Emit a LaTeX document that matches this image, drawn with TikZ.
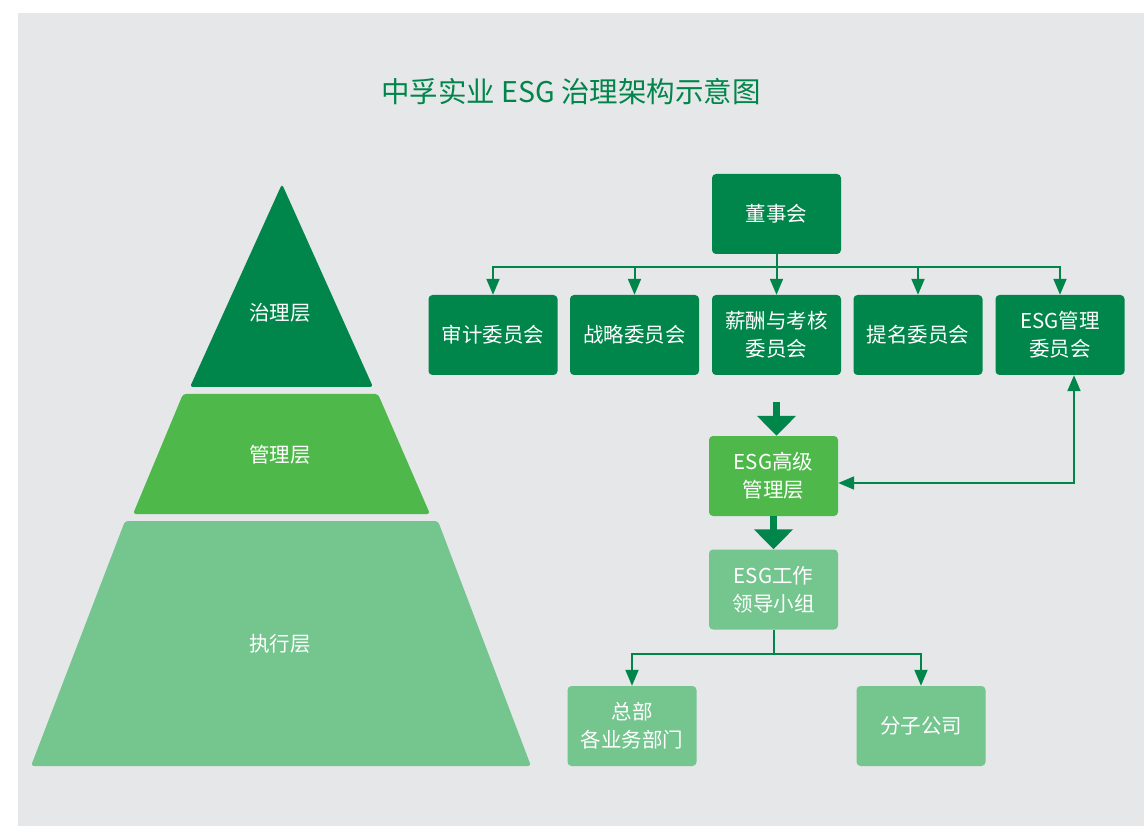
\documentclass[tikz,border=0pt]{standalone}
\usepackage{fontspec}
\setmainfont{Noto Sans CJK SC}
\usepackage{tikz}
\usetikzlibrary{arrows.meta,calc}
\usepackage{xcolor}
\definecolor{dgreen}{RGB}{0,133,74}
\definecolor{mgreen}{RGB}{78,185,74}
\definecolor{lgreen}{RGB}{117,197,143}
\definecolor{bggray}{RGB}{230,231,233}

\begin{document}
\begin{tikzpicture}[x=1pt,y=-1pt,
  >={Triangle[width=13pt,length=16pt]},
  box/.style={fill=#1,rounded corners=4pt,minimum width=129pt,minimum height=80pt,
    inner sep=0pt,text=white,align=center,font=\fontsize{20.5}{28}\selectfont},
  box/.default=dgreen,
  lbl/.style={text=white,font=\fontsize{20.5}{28}\selectfont},
  arr/.style={dgreen,line width=2pt,->},
  bigarr/.style={dgreen,line width=7pt,-{Triangle[width=38pt,length=20pt]}}
  ]
\def\yc{335}
\useasboundingbox (0,0) rectangle (1144,826);
\fill[bggray] (18,13) rectangle (1144,826);
% pyramid
\fill[dgreen,rounded corners=3pt] (282,184) -- (373,387) -- (190,387) -- cycle;
\fill[mgreen,rounded corners=3pt] (183,394) -- (378,394) -- (430,514) -- (133,514) -- cycle;
\fill[lgreen,rounded corners=3pt] (125,521) -- (438,521) -- (531,766) -- (31,766) -- cycle;
\node[lbl] (L1) at (280,313) {治理层};
\node[lbl] (L2) at (280,455) {管理层};
\node[lbl] (L3) at (280,644) {执行层};
\node[text=dgreen,font=\fontsize{28.5}{32}\selectfont] (T) at (571,92) {中孚实业 ESG 治理架构示意图};
% chart
\node[box] (B) at (776.5,214) {董事会};
\node[box] (C1) at (493,\yc) {审计委员会};
\node[box] (C2) at (634.5,\yc) {战略委员会};
\node[box] (C3) at (776.5,\yc) {薪酬与考核\\委员会};
\node[box] (C4) at (918,\yc) {提名委员会};
\node[box] (C5) at (1060,\yc) {ESG管理\\委员会};
\node[box=mgreen] (M) at (773.5,476) {ESG高级\\管理层};
\node[box=lgreen] (W) at (773.5,589.5) {ESG工作\\领导小组};
\node[box=lgreen] (H) at (632,726) {总部\\各业务部门};
\node[box=lgreen] (S) at (921,726) {分子公司};
\coordinate (J) at (1074,483);
\foreach \c in {C1,C2,C3,C4,C5}
  \draw[arr] (B.south) -- ++(0,13) -| (\c.north);
\draw[bigarr,shorten <=27pt] (C3.south) -- (C3.south |- M.north);
\draw[bigarr] (M.south) -- (M.south |- W.north);
\draw[arr,<->] (M.east |- J) -- (J) -- (J |- C5.south);
\draw[arr] (W.south) -- ++(0,24) -| (H.north);
\draw[arr] (W.south) -- ++(0,24) -| (S.north);
\end{tikzpicture}
\end{document}
